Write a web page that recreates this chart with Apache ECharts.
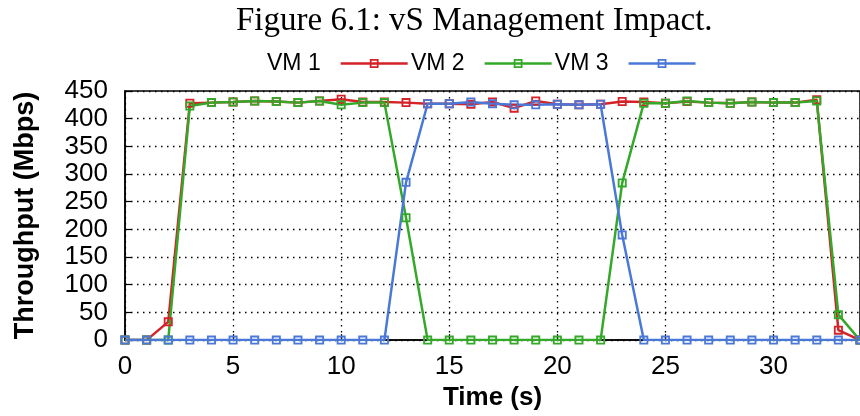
<!DOCTYPE html>
<html>
<head>
<meta charset="utf-8">
<script src="https://cdn.jsdelivr.net/npm/echarts@6/dist/echarts.min.js"></script>
<style>html,body{margin:0;padding:0;background:#fff}#c{width:860px;height:416px}</style>
</head>
<body>
<div id="c"></div>
<script>
const titleText = 'Figure 6.1: vS Management Impact.';
const seriesNames = ['VM 1', 'VM 2', 'VM 3'];
const time = [0,1,2,3,4,5,6,7,8,9,10,11,12,13,14,15,16,17,18,19,20,21,22,23,24,25,26,27,28,29,30,31,32,33,34];
const vm1 = [0,0,33,428,429,430,432,431,429,432,435,430,430,429,427,427,426,430,419,432,426,425,426,431,430,428,431,429,428,430,429,429,434,18,0];
const vm2 = [0,0,0,423,429,430,432,431,429,432,425,429,429,221,0,0,0,0,0,0,0,0,0,284,428,428,432,429,428,430,429,429,432,46,0];
const vm3 = [0,0,0,0,0,0,0,0,0,0,0,0,0,285,427,427,430,427,425,425,426,425,426,190,0,0,0,0,0,0,0,0,0,0,0];
const colors = ['#d42228', '#34a828', '#4a78d8'];
const xTitle = 'Time (s)';
const yTitle = 'Throughput (Mbps)';

const hollowSquare = 'path://M0,0H10V10H0Z M2,2V8H8V2Z';
const font = 'Liberation Sans, Arial, Helvetica, sans-serif';

function mk(name, vals, color) {
  return {
    name: name,
    type: 'line',
    data: time.map((t, i) => [t, vals[i]]),
    symbol: hollowSquare,
    symbolSize: 9,
    showAllSymbol: true,
    lineStyle: { color: color, width: 2.5 },
    itemStyle: { color: color },
    emphasis: { disabled: true }
  };
}

const chart = echarts.init(document.getElementById('c'), null, { renderer: 'canvas' });
const dotted = { color: '#000', width: 1.3, type: [1.5, 4.5] };
chart.setOption({
  animation: false,
  backgroundColor: '#fff',
  title: {
    text: titleText,
    left: 231, top: 0,
    textStyle: { fontFamily: 'Liberation Serif, Times New Roman, serif', fontSize: 33, fontWeight: 'normal', color: '#000' }
  },
  legend: {
    data: seriesNames,
    left: 262, top: 47,
    align: 'right',
    itemWidth: 67, itemHeight: 11, itemGap: 2,
    lineStyle: { width: 2.5 },
    textStyle: { fontFamily: font, fontSize: 23, color: '#000', padding: [0, 15, 0, 0] }
  },
  grid: {
    left: 125, top: 91, width: 737, height: 251,
    show: true, borderColor: '#000', borderWidth: 1.5, backgroundColor: 'transparent'
  },
  xAxis: {
    type: 'value', min: 0, max: 34, interval: 5,
    name: xTitle, nameLocation: 'middle', nameGap: 44,
    nameTextStyle: { fontFamily: font, fontSize: 26, fontWeight: 'bold', color: '#000' },
    axisLine: { show: true, lineStyle: { color: '#000', width: 1.5 } },
    axisTick: { show: true, inside: true, length: 6, lineStyle: { color: '#000', width: 1.2 } },
    axisLabel: { fontFamily: font, fontSize: 26, color: '#000', margin: 14, showMaxLabel: false },
    splitLine: { show: true, lineStyle: dotted }
  },
  yAxis: {
    type: 'value', min: 0, max: 450, interval: 50,
    name: yTitle, nameLocation: 'middle', nameGap: 86, nameRotate: 90,
    nameTextStyle: { fontFamily: font, fontSize: 27, fontWeight: 'bold', color: '#000' },
    axisLine: { show: true, lineStyle: { color: '#000', width: 1.5 } },
    axisTick: { show: true, inside: true, length: 6, lineStyle: { color: '#000', width: 1.2 } },
    axisLabel: { fontFamily: font, fontSize: 26, color: '#000', margin: 17 },
    splitLine: { show: true, lineStyle: dotted }
  },
  series: [mk(seriesNames[0], vm1, colors[0]), mk(seriesNames[1], vm2, colors[1]), mk(seriesNames[2], vm3, colors[2])]
});
</script>
</body>
</html>
